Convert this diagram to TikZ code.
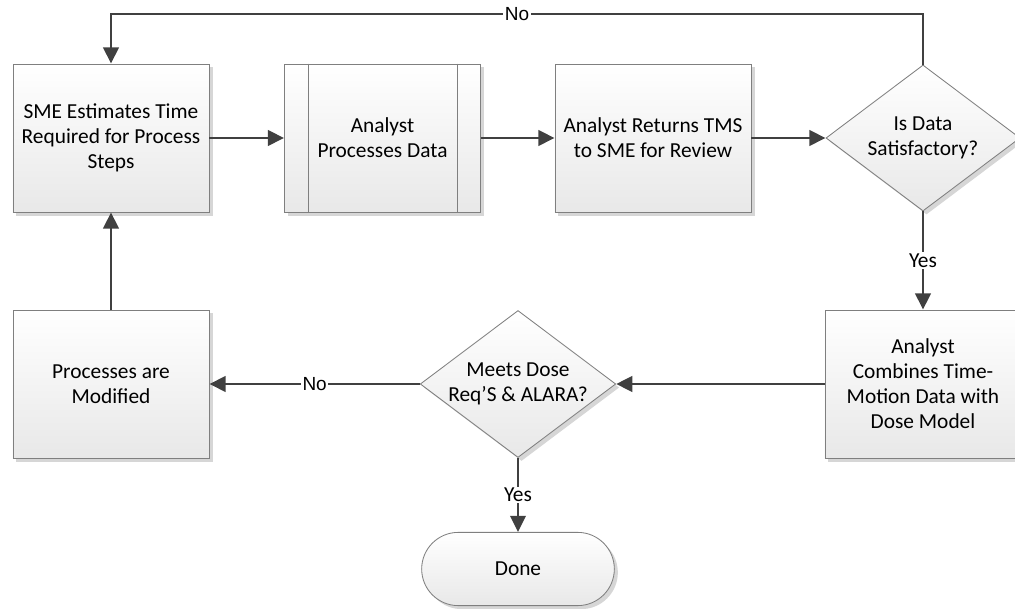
\documentclass[tikz,border=0pt]{standalone}
\usepackage{fontspec}
\setmainfont{Carlito}
\newfontfamily\arialfont{Liberation Sans}
\usepackage{tikz}
\usetikzlibrary{positioning, arrows.meta, calc, shadows}
\usetikzlibrary{shapes.geometric, shapes.misc}
\definecolor{edgegray}{HTML}{7F7F7F}
\definecolor{flowgray}{HTML}{404040}
\tikzset{
    boxtext/.style={font=\fontsize{15.2}{17.8}\selectfont, align=center, text=black},
    shaded/.style={draw=edgegray, line width=0.6pt, top color=white, bottom color=black!9,
        drop shadow={shadow xshift=2.5pt, shadow yshift=-2.5pt, fill=black!16, opacity=1}},
    procbox/.style={shaded, boxtext, rectangle, minimum width=4.9cm, minimum height=3.7cm},
    decision/.style={shaded, boxtext, diamond, inner sep=0pt, shape aspect=1.33,
        minimum width=4.85cm, minimum height=3.65cm},
    terminal/.style={shaded, boxtext, rounded rectangle, minimum width=5.05cm, minimum height=1.83cm},
    flow/.style={draw=flowgray, line width=1.8pt, -{Triangle[length=11.5pt, width=11pt]}},
    flowlabel/.style={fill=white, inner sep=1pt, font=\fontsize{15.2}{17}\selectfont},
    nolabel/.style={fill=white, inner sep=1pt, font=\arialfont\fontsize{13.5}{16}\selectfont}
}

\begin{document}
\begin{tikzpicture}[x=0.025cm, y=-0.025cm]

    % =========================================================================
    % FRAME: keep the page the size of the original drawing
    % =========================================================================
    \useasboundingbox (0,0) rectangle (1015,609);

    % =========================================================================
    % TOP ROW: estimate, process, return, check
    % =========================================================================
    \node[procbox] (sme) at (111,138) {SME Estimates Time\\Required for Process\\Steps};
    \node[procbox] (proc) at (382.5,138) {Analyst\\Processes Data};
    \draw[edgegray, line width=0.6pt] ([xshift=0.6cm]proc.north west) -- ([xshift=0.6cm]proc.south west);
    \draw[edgegray, line width=0.6pt] ([xshift=-0.6cm]proc.north east) -- ([xshift=-0.6cm]proc.south east);
    \node[procbox] (ret) at (653,138) {Analyst Returns TMS\\to SME for Review};
    \node[decision] (sat) at (923,138) {Is Data\\Satisfactory?};

    % =========================================================================
    % BOTTOM ROW: modify, dose check, combine, done
    % =========================================================================
    \node[procbox] (mod) at (111,384) {Processes are\\Modified};
    \node[decision] (dose) at (518,384) {Meets Dose\\Req'S \& ALARA?};
    \node[procbox] (comb) at (923,384) {Analyst\\Combines Time-\\Motion Data with\\Dose Model};
    \node[terminal] (done) at (518,569) {Done};

    % Corner of the loop back to the first step
    \coordinate (loop) at (111,14);

    % =========================================================================
    % CONNECTORS
    % =========================================================================
    \draw[flow] (sme) -- (proc);
    \draw[flow] (proc) -- (ret);
    \draw[flow] (ret) -- (sat);
    \draw[flow] (sat.north) |- node[pos=0.75, nolabel] {No} (loop) -- (sme.north);
    \draw[flow] (sat.south) -- node[flowlabel] {Yes} (comb.north);
    \draw[flow] (comb.west) -- (dose.east);
    \draw[flow] (dose.west) -- node[nolabel] {No} (mod.east);
    \draw[flow] (dose.south) -- node[flowlabel] {Yes} (done.north);
    \draw[flow] (mod.north) -- (sme.south);

\end{tikzpicture}
\end{document}
